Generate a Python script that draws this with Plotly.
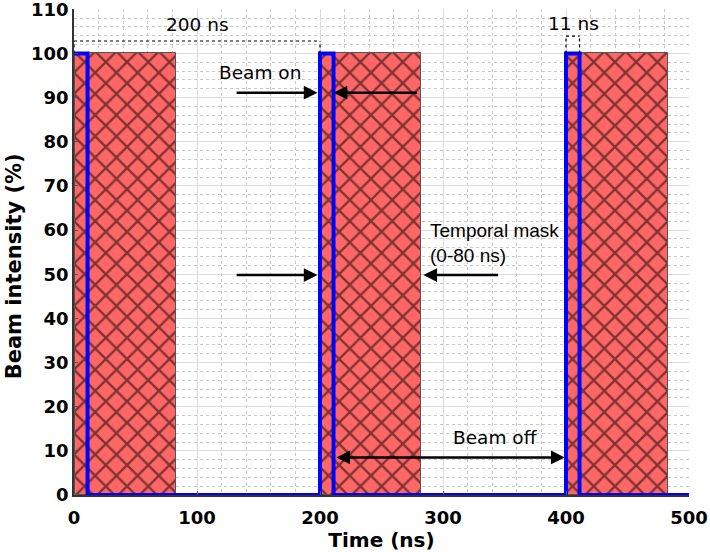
import plotly.graph_objects as go

# Temporal mask windows (ns)
mask_start = [1, 201, 401]
mask_end = [83, 282, 483]
mask_height = [100, 100, 100]

# Beam pulse train (step, hv)
beam_t = [0, 11, 200, 211, 400, 411, 500]
beam_i = [100, 0, 100, 0, 100, 0, 0]

x_ticks = [0, 100, 200, 300, 400, 500]
y_ticks = [0, 10, 20, 30, 40, 50, 60, 70, 80, 90, 100, 110]

FONT = "DejaVu Sans"
FONT2 = "Liberation Sans"

fig = go.Figure()

centers = [(a + b) / 2 for a, b in zip(mask_start, mask_end)]
widths = [b - a for a, b in zip(mask_start, mask_end)]
fig.add_trace(go.Bar(
    x=centers, y=mask_height, width=widths, base=0,
    marker=dict(color="#FF6666",
                line=dict(color="#555555", width=1),
                pattern=dict(shape="x", fgcolor="black", bgcolor="#FF6666",
                             size=15, solidity=0.28)),
    showlegend=False, hoverinfo="skip",
))

fig.add_trace(go.Scatter(
    x=beam_t, y=beam_i, mode="lines", line_shape="hv",
    line=dict(color="#0000FF", width=4), showlegend=False,
))

# dotted brackets
def dotted(x0, y0, x1, y1):
    fig.add_shape(type="line", x0=x0, y0=y0, x1=x1, y1=y1, xref="x", yref="y",
                  line=dict(color="black", width=1.2, dash="dot"))

dotted(0, 102.8, 200, 102.8)
dotted(0, 100, 0, 102.8)
dotted(200, 100, 200, 102.8)
dotted(400, 103.9, 411, 103.9)
dotted(400, 100, 400, 103.9)
dotted(411, 100, 411, 103.9)

txt = dict(family=FONT, size=18.5, color="black")
txt2 = dict(family=FONT2, size=19, color="black")
fig.add_annotation(x=100, y=106.6, text="200 ns", showarrow=False, font=txt)
fig.add_annotation(x=405.7, y=106.8, text="11 ns", showarrow=False, font=txt)
fig.add_annotation(x=151, y=95.7, text="Beam on", showarrow=False, font=txt)
fig.add_annotation(x=288, y=60.0, text="Temporal mask", showarrow=False, font=txt2, xanchor="left")
fig.add_annotation(x=288, y=54.3, text="(0-80 ns)", showarrow=False, font=txt2, xanchor="left")
fig.add_annotation(x=343, y=13.1, text="Beam off", showarrow=False, font=txt)

def arrow(x_tail, x_head, y, both=False):
    fig.add_annotation(x=x_head, y=y, ax=x_tail, ay=y, xref="x", yref="y",
                       axref="x", ayref="y", text="", showarrow=True,
                       arrowhead=2, arrowsize=1.1, arrowwidth=2.5, arrowcolor="black",
                       arrowside="end+start" if both else "end")

arrow(131, 198, 91.1)
arrow(280, 211, 91.1)
arrow(131, 198, 49.8)
arrow(346, 284, 49.8)
arrow(212, 399, 8.5, both=True)

# y-axis title
fig.add_annotation(x=-0.098, y=0.47, xref="paper", yref="paper", text="Beam intensity (%)",
                   textangle=-90, showarrow=False, xanchor="center", yanchor="middle",
                   font=dict(family=FONT, size=21, color="black", weight="bold"))

axis_common = dict(
    showgrid=True, gridcolor="#dddddd", gridwidth=1,
    showline=True, linecolor="#333333", linewidth=1.5, mirror=False,
    ticks="inside", ticklen=4, tickcolor="#555555", tickwidth=1,
    zeroline=False, automargin=False, ticklabeloverflow="allow",
    tickfont=dict(family=FONT, size=18, color="black", weight="bold"),
)

fig.update_xaxes(range=[0, 500], tickvals=x_ticks, **axis_common, ticklabelstandoff=6,
                 minor=dict(dtick=20, showgrid=True, gridcolor="#c8c8c8", griddash="dot", gridwidth=1),
                 title=dict(text="Time (ns)", font=dict(family=FONT, size=20, color="black", weight="bold"),
                            standoff=8))
fig.update_yaxes(range=[0, 110.05], tickvals=y_ticks, **axis_common,
                 minor=dict(dtick=2, showgrid=True, gridcolor="#c8c8c8", griddash="dot", gridwidth=1))

fig.update_layout(
    width=710, height=552,
    margin=dict(l=74, r=21, t=9, b=57),
    plot_bgcolor="white", paper_bgcolor="white",
    bargap=0,
    font=dict(family=FONT),
)

fig.write_html("out.html", config={"displayModeBar": False},
               post_script="document.body.style.margin='0';document.body.style.overflow='hidden';")
